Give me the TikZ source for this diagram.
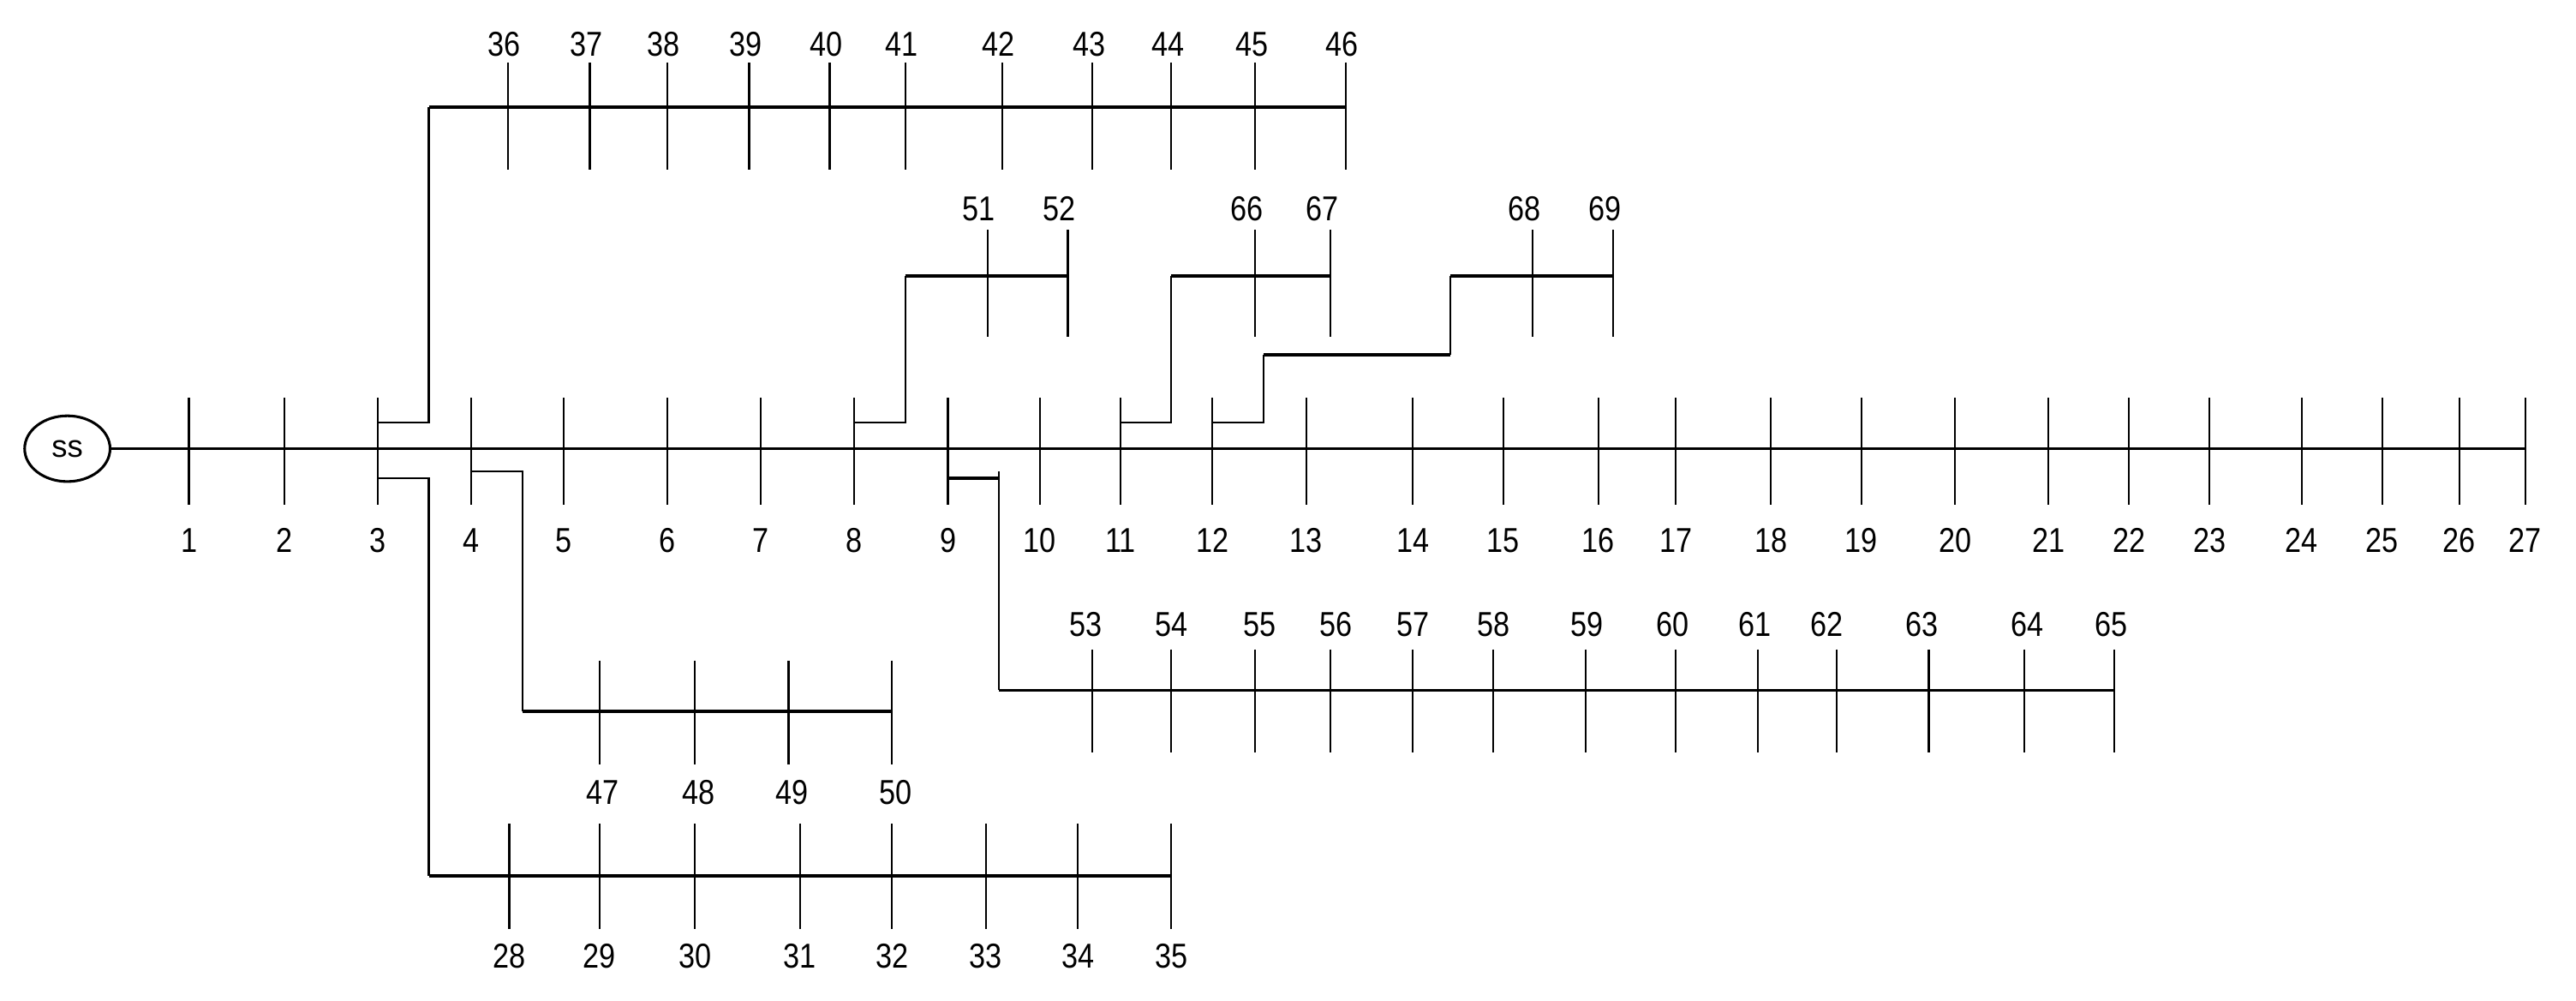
\documentclass[tikz,border=0pt]{standalone}
\usepackage{fontspec}
\setmainfont{Liberation Sans}
\begin{document}
\begin{tikzpicture}[x=1pt,y=-1pt,
  bus/.style={line width=2pt},
  wire/.style={line width=1.1pt},
  tick/.style={line width=1.1pt},
  lab/.style={font=\fontsize{21}{21}\selectfont, xscale=0.85, inner sep=0pt},
  src/.style={draw, line width=1.6pt, ellipse, minimum width=52pt, minimum height=40pt, inner sep=0pt, font=\fontsize{19}{19}\selectfont}]
\useasboundingbox (0,0) rectangle (1568,609);
\usetikzlibrary{shapes.geometric}
\node[src] (ss) at (41,273) {ss};
% main feeder
\coordinate (mEnd) at (1537,273);
\draw[bus] (ss.east) -- (mEnd);
\foreach \n/\x in {1/115,2/173,3/230,4/287,5/343,6/406,7/463,8/520,9/577,10/633,11/682,12/738,13/795,14/860,15/915,16/973,17/1020,18/1078,19/1133,20/1190,21/1247,22/1296,23/1345,24/1401,25/1450,26/1497,27/1537}{
  \coordinate (t\n) at (\x,242); \coordinate (b\n) at (\x,307);
  \draw[tick] (t\n) -- (b\n);
  \node[lab] (L\n) at (\x,329) {\n};
}
% top lateral 36-46
\coordinate (u3a) at (230,257); \coordinate (u3b) at (261,257);
\coordinate (u3c) at (261,65); \coordinate (u3d) at (819,65);
\draw[wire] (u3a) -- (u3b) -- (u3c); \draw[bus] (u3c) -- (u3d);
\foreach \n/\x in {36/309,37/359,38/406,39/456,40/505,41/551,42/610,43/665,44/713,45/764,46/819}{
  \coordinate (t\n) at (\x,38); \coordinate (b\n) at (\x,103);
  \draw[tick] (t\n) -- (b\n);
  \node[lab] (L\n) at (\x-2,27) {\n};
}
% 28-35
\coordinate (d3a) at (230,291); \coordinate (d3b) at (261,291);
\coordinate (d3c) at (261,533); \coordinate (d3d) at (713,533);
\draw[wire] (d3a) -- (d3b) -- (d3c); \draw[bus] (d3c) -- (d3d);
\foreach \n/\x in {28/310,29/365,30/423,31/487,32/543,33/600,34/656,35/713}{
  \coordinate (t\n) at (\x,501); \coordinate (b\n) at (\x,565);
  \draw[tick] (t\n) -- (b\n);
  \node[lab] (L\n) at (\x,582) {\n};
}
% 47-50
\coordinate (d4a) at (287,287); \coordinate (d4b) at (318,287);
\coordinate (d4c) at (318,433); \coordinate (d4d) at (543,433);
\draw[wire] (d4a) -- (d4b) -- (d4c); \draw[bus] (d4c) -- (d4d);
\foreach \n/\x in {47/365,48/423,49/480,50/543}{
  \coordinate (t\n) at (\x,402); \coordinate (b\n) at (\x,465);
  \draw[tick] (t\n) -- (b\n);
  \node[lab] (L\n) at (\x+2,482) {\n};
}
% 51-52
\coordinate (u8a) at (520,257); \coordinate (u8b) at (551,257);
\coordinate (u8c) at (551,168); \coordinate (u8d) at (650,168);
\draw[wire] (u8a) -- (u8b) -- (u8c); \draw[bus] (u8c) -- (u8d);
% 66-67
\coordinate (u11a) at (682,257); \coordinate (u11b) at (713,257);
\coordinate (u11c) at (713,168); \coordinate (u11d) at (810,168);
\draw[wire] (u11a) -- (u11b) -- (u11c); \draw[bus] (u11c) -- (u11d);
% 68-69
\coordinate (u12a) at (738,257); \coordinate (u12b) at (769,257);
\coordinate (u12c) at (769,216); \coordinate (u12d) at (883,216);
\coordinate (u12e) at (883,168); \coordinate (u12f) at (982,168);
\draw[wire] (u12a) -- (u12b) -- (u12c); \draw[bus] (u12c) -- (u12d);
\draw[wire] (u12d) -- (u12e); \draw[bus] (u12e) -- (u12f);
\foreach \n/\x in {51/601,52/650,66/764,67/810,68/933,69/982}{
  \coordinate (t\n) at (\x,140); \coordinate (b\n) at (\x,205);
  \draw[tick] (t\n) -- (b\n);
  \node[lab] (L\n) at (\x-5,127) {\n};
}
% 53-65
\coordinate (d9a) at (577,291); \coordinate (d9b) at (608,291);
\coordinate (d9t) at (608,287);
\coordinate (d9c) at (608,420); \coordinate (d9d) at (1287,420);
\draw[bus] (d9a) -- (d9b); \draw[wire] (d9t) -- (d9c); \draw[bus] (d9c) -- (d9d);
\foreach \n/\x/\lx in {53/665/661,54/713/713,55/764/767,56/810/813,57/860/860,58/909/909,59/965/966,60/1020/1018,61/1070/1068,62/1118/1112,63/1174/1170,64/1232/1234,65/1287/1285}{
  \coordinate (t\n) at (\x,395); \coordinate (b\n) at (\x,458);
  \draw[tick] (t\n) -- (b\n);
  \node[lab] (L\n) at (\lx,380) {\n};
}
\end{tikzpicture}
\end{document}
